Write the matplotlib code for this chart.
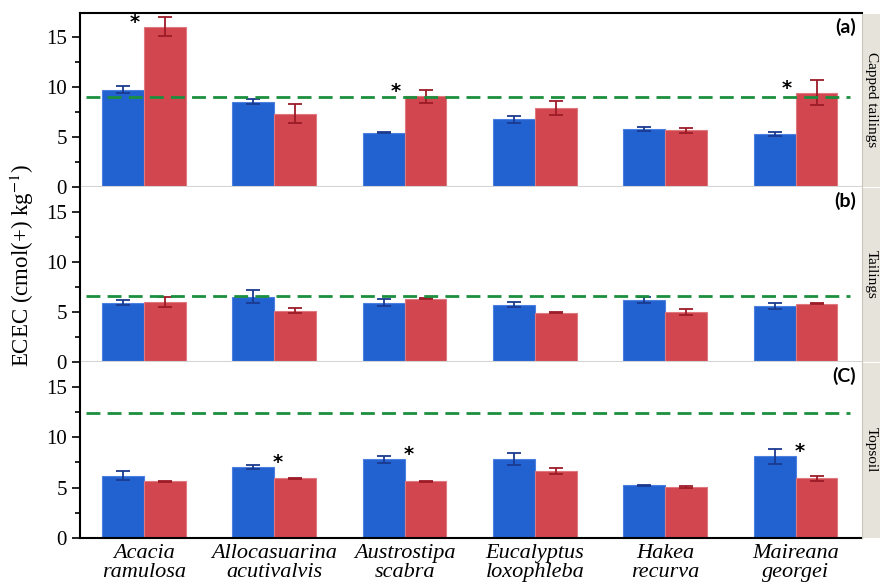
import numpy as np
import matplotlib
matplotlib.use("Agg")
import matplotlib.pyplot as plt
from matplotlib.ticker import MultipleLocator

plt.rcParams['font.family'] = ['Liberation Serif', 'DejaVu Serif']
plt.rcParams['mathtext.fontset'] = 'stix'

# ---- data ----
species = ['Acacia\nramulosa', 'Allocasuarina\nacutivalvis', 'Austrostipa\nscabra',
           'Eucalyptus\nloxophleba', 'Hakea\nrecurva', 'Maireana\ngeorgei']
panels = ['(a)', '(b)', '(C)']
strips = ['Capped tailings', 'Tailings', 'Topsoil']

# blue series
blue_a = [9.75, 8.57, 5.43, 6.77, 5.80, 5.30]
blue_a_err = [0.35, 0.27, 0.05, 0.37, 0.20, 0.18]
blue_b = [5.93, 6.53, 5.93, 5.70, 6.20, 5.60]
blue_b_err = [0.25, 0.62, 0.38, 0.25, 0.30, 0.32]
blue_c = [6.17, 7.07, 7.80, 7.80, 5.23, 8.10]
blue_c_err = [0.43, 0.20, 0.37, 0.58, 0.07, 0.77]

# red series
red_a = [16.07, 7.37, 9.10, 7.93, 5.67, 9.47]
red_a_err = [0.95, 1.00, 0.67, 0.70, 0.28, 1.28]
red_b = [5.95, 5.13, 6.30, 4.93, 5.00, 5.83]
red_b_err = [0.50, 0.23, 0.04, 0.03, 0.27, 0.03]
red_c = [5.63, 5.90, 5.63, 6.63, 5.03, 5.90]
red_c_err = [0.05, 0.04, 0.04, 0.28, 0.10, 0.23]

# reference (dashed) levels
ref_levels = [9.0, 6.55, 12.4]

# significance marks
sig_a = [True, False, True, False, False, True]
sig_b = [False, False, False, False, False, False]
sig_c = [False, True, True, False, False, True]

blues = [blue_a, blue_b, blue_c]
blue_errs = [blue_a_err, blue_b_err, blue_c_err]
reds = [red_a, red_b, red_c]
red_errs = [red_a_err, red_b_err, red_c_err]
sigs = [sig_a, sig_b, sig_c]

# ---- figure ----
W, H = 880, 588
fig = plt.figure(figsize=(8.8, 5.88), dpi=100)

left, right = 80, 862
bounds = [(13, 187), (187, 362), (362, 538)]
x = np.arange(len(species))
bw = 0.322

c_blue = '#2262d0'
c_red = '#d2464f'
e_blue = '#1b3a8f'
e_red = '#9c1b27'
c_green = '#1b8f3d'

for i, (top, bot) in enumerate(bounds):
    ax = fig.add_axes([left / W, 1 - bot / H, (right - left) / W, (bot - top) / H])
    b = np.array(blues[i])
    r = np.array(reds[i])
    ax.bar(x - bw / 2, b, bw, yerr=blue_errs[i], color=c_blue, edgecolor='#4c80e0',
           linewidth=0.8, error_kw=dict(ecolor=e_blue, capsize=5, elinewidth=1.3, capthick=1.3),
           zorder=2)
    ax.bar(x + bw / 2, r, bw, yerr=red_errs[i], color=c_red, edgecolor='#e07880',
           linewidth=0.8, error_kw=dict(ecolor=e_red, capsize=5, elinewidth=1.3, capthick=1.3),
           zorder=2)
    ln = ax.hlines(ref_levels[i], -0.445, 5.42, colors=c_green, linewidth=2, zorder=3)
    ln.set_linestyle((0, (5, 2.6)))

    for j, s in enumerate(sigs[i]):
        if s:
            dx = -0.07 if r[j] > b[j] else 0.03
            ax.text(x[j] + dx, max(b[j], r[j]) + 0.45, '*', ha='center', va='center',
                    fontsize=14, fontweight='bold', family='DejaVu Sans', zorder=4)

    ax.text(0.992, 0.97, panels[i], transform=ax.transAxes, ha='right', va='top',
            fontsize=14, fontweight='bold', family=['Lato', 'DejaVu Sans'])

    ax.set_xlim(-0.49, 5.51)
    ax.set_ylim(0, 17.45)
    ax.yaxis.set_major_locator(MultipleLocator(5))
    ax.yaxis.set_minor_locator(MultipleLocator(2.5))
    ax.tick_params(axis='y', which='major', length=6, width=1.2, labelsize=15, direction='out')
    ax.tick_params(axis='y', which='minor', length=3.5, width=1.2)
    ax.spines['right'].set_visible(False)
    ax.spines['left'].set_linewidth(1.5)
    if i == 0:
        ax.spines['top'].set_linewidth(1.5)
    else:
        ax.spines['top'].set_visible(False)
    if i < 2:
        ax.spines['bottom'].set_color('#d4d4d4')
        ax.spines['bottom'].set_linewidth(1.5)
        ax.set_xticks([])
    else:
        ax.spines['bottom'].set_linewidth(1.5)
        ax.set_xticks(x)
        ax.set_xticklabels(species, fontsize=16, style='italic', linespacing=1.05)
        ax.tick_params(axis='x', length=0, pad=4)

    # strip on the right
    sax = fig.add_axes([right / W, 1 - bot / H, 30 / W, (bot - top - 1) / H])
    sax.set_facecolor('#e5e3da')
    sax.set_xticks([])
    sax.set_yticks([])
    for sp in ['top', 'right', 'bottom']:
        sax.spines[sp].set_visible(False)
    sax.spines['left'].set_color('#c9c7bd')
    fig.text(871 / W, 1 - (top + bot) / 2 / H, strips[i], rotation=270,
             ha='center', va='center', fontsize=11)

fig.text(22 / W, 1 - 265 / H, 'ECEC (cmol(+) kg$^{-1}$)', rotation=90,
         ha='center', va='center', fontsize=16.5)

fig.savefig('out.png', dpi=100)
